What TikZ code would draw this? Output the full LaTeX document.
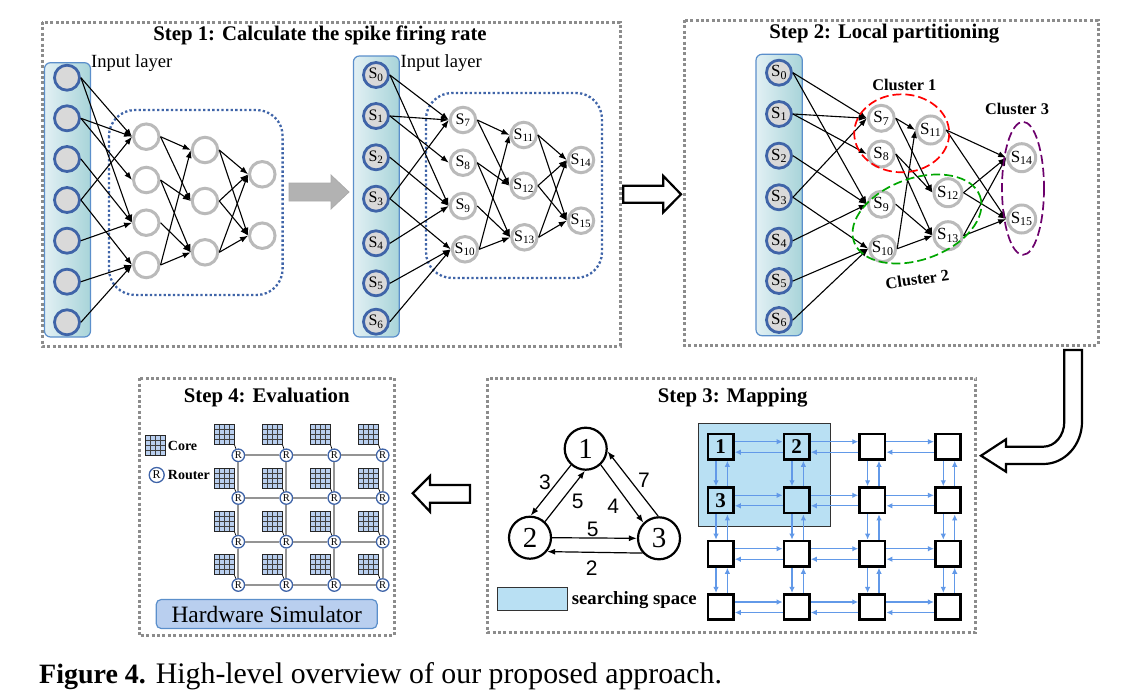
\documentclass[tikz,border=0pt]{standalone}
\usepackage{fontspec}
\setmainfont{Liberation Serif}
\newfontfamily\arialfont{Liberation Sans}
\usetikzlibrary{calc,arrows.meta}
\newcommand\fsz[1]{\fontsize{#1}{#1}\selectfont}
\newcommand\snnedges[1]{\foreach \u/\v in {0/7,0/9,1/7,1/8,2/9,3/7,3/10,4/9,5/10,6/10,7/11,7/12,8/12,8/13,9/13,10/11,10/13,11/14,11/15,12/14,12/15,13/14,13/15}\draw[edge](#1\u.east)--(#1\v.west);}
\definecolor{inblue}{HTML}{3F64A8}
\definecolor{rectblue}{HTML}{5B8FCB}
\definecolor{meshblue}{HTML}{6299E8}
\definecolor{skyfill}{HTML}{B9E0F3}
\definecolor{corefill}{HTML}{B9CFEF}
\definecolor{rectleft}{HTML}{E2F0F4}
\definecolor{rectright}{HTML}{A8D4D9}
\tikzset{
	panel/.style={draw=black!45,line width=3pt,dash pattern=on 3pt off 2.4pt},
	title/.style={font=\fsz{20.8}\bfseries},
	inrect/.style={draw=rectblue,line width=1.2pt,rounded corners=6pt,left color=rectleft,right color=rectright},
	innode/.style={circle,draw=inblue,fill=black!15,line width=2.8pt,minimum size=25pt,inner sep=0pt,font=\fsz{16}},
	hidnode/.style={circle,draw=black!27,fill=white,line width=3pt,minimum size=25.5pt,inner sep=0pt,font=\fsz{16}},
	edge/.style={line width=1.1pt,-{Latex[length=8pt,width=6pt]}},
	dotbox/.style={draw=inblue,line width=2.3pt,dash pattern=on 2.3pt off 2.3pt,rounded corners=26pt},
	blockarrow/.style={draw=black,line width=2.2pt,fill=white,miter limit=10},
	cluster/.style={line width=1.7pt,dash pattern=on 9pt off 4pt},
	clab/.style={font=\fsz{16.3}\bfseries},
	graphnode/.style={circle,draw=black,line width=2.2pt,fill=white,minimum size=42pt,inner sep=0pt,font=\fsz{29}},
	graphedge/.style={line width=1.2pt,-{Latex[length=8pt,width=6pt]}},
	graphlab/.style={font=\arialfont\fsz{21}},
	meshnode/.style={draw=black,line width=2.6pt,minimum size=25.5pt,inner sep=0pt,font=\fsz{21}\bfseries},
	meshedge/.style={draw=meshblue,line width=1.3pt,-{Latex[length=6pt,width=5.5pt]}},
	core/.style={draw=black!85,fill=corefill,line width=1pt,minimum size=20pt,inner sep=0pt,
		path picture={\foreach \t in {.25,.5,.75}{
			\draw[black!75,line width=.6pt]($(path picture bounding box.south west)!\t!(path picture bounding box.south east)$)--($(path picture bounding box.north west)!\t!(path picture bounding box.north east)$);
			\draw[black!75,line width=.6pt]($(path picture bounding box.south west)!\t!(path picture bounding box.north west)$)--($(path picture bounding box.south east)!\t!(path picture bounding box.north east)$);}}},
	router/.style={circle,draw=inblue,fill=white,line width=1.3pt,minimum size=12.5pt,inner sep=0pt,font=\fsz{10.5}},
	wire/.style={draw=black!42,line width=1.7pt},
}
\begin{document}
\begin{tikzpicture}[x=1pt,y=-1pt]
	\useasboundingbox(0,0)rectangle(1134,699);
	% step 1
	\draw[panel](42,22)rectangle(620,346);
	\node[title](titleA)at(320,35){Step 1: Calculate the spike firing rate};
	\path[inrect](44.5,62.7)rectangle(90.5,337);
	\path[inrect](353.4,56)rectangle(399.3,337);
	\draw[dotbox](109,110)rectangle(282.6,295);
	\draw[dotbox](426,93)rectangle(602,278);
	\foreach \n/\y in {0/77.7,1/118.3,2/159,3/200,4/240.7,5/281.7,6/322.3}
		\node[innode](a\n)at(67,\y){};
	\foreach \n/\x/\y in {7/146.3/136.7,8/146.3/180,9/146.3/222.7,10/146.3/265,11/205/150,12/205/201,13/205/252.3,14/262.3/174.3,15/262.3/235.7}
		\node[hidnode](a\n)at(\x,\y){};
	\snnedges{a}
	\node[anchor=west,font=\fsz{18.6},inner sep=0pt](inlabA)at(91,63){Input layer};
	\foreach \n/\y in {0/75,1/116,2/157.3,3/198.7,4/243.3,5/283.3,6/321.7}
		\node[innode](b\n)at(376,\y){S\textsubscript{\n}};
	\foreach \n/\x/\y in {7/463/120,8/463/162.7,9/463/206,10/465/249.3,11/523.7/135,12/523.7/185.7,13/524.4/237.3,14/581/160,15/581/220.7}
		\node[hidnode](b\n)at(\x,\y){S\textsubscript{\n}};
	\snnedges{b}
	\node[anchor=west,font=\fsz{18.6},inner sep=0pt](inlabB)at(400.5,63){Input layer};
	\draw[draw=black!33,fill=black!30,line width=.8pt](289,183)--(331,183)--(331,175)--(349,192)--(331,209)--(331,201)--(289,201)--cycle;
	\draw[blockarrow](623.3,185.7)--(663.3,185.7)--(663.3,176)--(681,194.3)--(663.3,212.3)--(663.3,202.7)--(623.3,202.7)--cycle;
	% step 2
	\draw[panel](684,20)rectangle(1098,345);
	\node[title](titleB)at(884.3,33.5){Step 2: Local partitioning};
	\path[inrect](756,54.3)rectangle(802.3,335.7);
	\foreach \n/\y in {0/72.7,1/114,2/155.7,3/197.3,4/240.7,5/281,6/320}
		\node[innode,font=\fsz{17}](c\n)at(779,\y){S\textsubscript{\n}};
	\foreach \n/\x/\y in {7/881.3/118.3,8/881.3/154,9/881.3/204.3,10/882.7/248.7}
		\node[hidnode,minimum size=26pt,font=\fsz{17}](c\n)at(\x,\y){S\textsubscript{\n}};
	\foreach \n/\x/\y in {11/930.7/130,12/948/192.7,13/948/235.7,14/1021.7/157.7,15/1021.7/219}
		\node[hidnode,minimum size=28pt,font=\fsz{17}](c\n)at(\x,\y){S\textsubscript{\n}};
	\snnedges{c}
	\draw[cluster,red](901.7,133.3)ellipse[x radius=47.5,y radius=39];
	\draw[cluster,green!65!black,rotate around={20:(917,219)}](917,219)ellipse[x radius=67,y radius=40.6];
	\draw[cluster,violet!85!black](1023,188.3)ellipse[x radius=21,y radius=66.5];
	\node[clab](clusA)at(904.3,85){Cluster 1};
	\node[clab,rotate=8](clusB)at(917.3,279.3){Cluster 2};
	\node[clab](clusC)at(1017,109.3){Cluster 3};
	\draw[blockarrow](1064.3,350)--(1082,350)--(1082,421.7)arc[start angle=0,end angle=90,x radius=38.7,y radius=42.3]--(1006,464)--(1006,471.7)--(981,455.7)--(1006,439.3)--(1006,446.7)--(1043.3,446.7)arc[start angle=90,end angle=0,x radius=21,y radius=25]--cycle;
	% step 3
	\draw[panel](487.3,378.3)rectangle(975.7,632.3);
	\node[title](titleC)at(732.7,397.5){Step 3: Mapping};
	\node[graphnode](n1)at(585.7,448.7){1};
	\node[graphnode](n2)at(530,537.7){2};
	\node[graphnode](n3)at(659,538.3){3};
	\draw[graphedge](n1.228)--(n2.88);
	\draw[graphedge](n2.47)--(n1.268);
	\draw[graphedge](n1.313)--(n3.135);
	\draw[graphedge](n3.92)--(n1.353);
	\draw[graphedge](n2.0)--(n3.180);
	\draw[graphedge](n3.222)--(n2.321);
	\foreach \t/\x/\y in {3/545/482.7,5/577.7/501.7,4/613.3/506,7/644/480,5/592.7/529,2/591.7/567.7}
		\node[graphlab]at(\x,\y){\t};
	\draw[draw=black!80,fill=skyfill,line width=.8pt](698.7,423.3)rectangle(830,526.7);
	\draw[draw=black!80,fill=skyfill,line width=.8pt](497.7,587.3)rectangle(567.7,610);
	\node[anchor=west,inner sep=0pt,font=\fsz{18.7}\bfseries](skylab)at(571.7,600){searching space};
	\foreach \i/\x in {1/720.7,2/796.7,3/872.3,4/948}
		\foreach \j/\y in {1/446.7,2/500.3,3/553.7,4/607}
			\node[meshnode](g\i\j)at(\x,\y){};
	\node[font=\fsz{21}\bfseries]at(g11){1};
	\node[font=\fsz{21}\bfseries]at(g21){2};
	\node[font=\fsz{21}\bfseries]at(g12){3};
	\foreach \j in {1,2,3,4}
		\foreach \i/\k in {1/2,2/3,3/4}{
			\draw[meshedge]([yshift=5pt]g\i\j.east)--([yshift=5pt]g\k\j.west);
			\draw[meshedge]([yshift=-5.5pt]g\k\j.west)--([yshift=-5.5pt]g\i\j.east);
		}
	\foreach \i in {1,2,3,4}
		\foreach \j/\k in {1/2,2/3,3/4}{
			\draw[meshedge]([xshift=-4.7pt]g\i\j.south)--([xshift=-4.7pt]g\i\k.north);
			\draw[meshedge]([xshift=6.7pt]g\i\k.north)--([xshift=6.7pt]g\i\j.south);
		}
	\draw[blockarrow](412.7,493.3)--(430,476)--(430,485)--(470,485)--(470,502.7)--(430,502.7)--(430,511.7)--cycle;
	% step 4
	\draw[panel](139,378.3)rectangle(394,635.7);
	\node[title](titleD)at(266.7,397){Step 4: Evaluation};
	\foreach \i/\x in {1/224,2/272,3/320,4/368}
		\foreach \j/\y in {1/434.3,2/478,3/521.3,4/564.7}
			\node[core](k\i\j)at(\x,\y){};
	\foreach \i/\x in {1/238.3,2/286.3,3/334.3,4/382.7}
		\foreach \j/\y in {1/455.3,2/498,3/541.7,4/585}{
			\node[router](r\i\j)at(\x,\y){R};
			\draw[line width=.7pt](k\i\j.south east)--(r\i\j);
		}
	\foreach \j in {1,2,3,4}
		\foreach \i/\k in {1/2,2/3,3/4}
			\draw[wire](r\i\j)--(r\k\j);
	\foreach \i in {1,2,3,4}
		\foreach \j/\k in {1/2,2/3,3/4}
			\draw[wire](r\i\j)--(r\i\k);
	\node[core](corekey)at(155.3,445.5){};
	\node[router,minimum size=15pt,font=\fsz{12}](routerkey)at(156.7,475){R};
	\node[anchor=west,inner sep=0pt,font=\fsz{14}\bfseries](corelab)at(167.7,445.7){Core};
	\node[anchor=west,inner sep=0pt,font=\fsz{14}\bfseries](routerlab)at(167.7,475.3){Router};
	\node[draw=rectblue,fill=corefill,line width=1.2pt,rounded corners=5pt,minimum width=221pt,minimum height=29pt,inner sep=0pt,font=\fsz{23.4}](simbox)at(266.7,614){Hardware Simulator};
	% caption
	\node[anchor=base west,inner sep=0pt,font=\fsz{29.8}](caption)at(39,683){{\fsz{28}\textbf{Figure 4.}} High-level overview of our proposed approach.};
\end{tikzpicture}
\end{document}
